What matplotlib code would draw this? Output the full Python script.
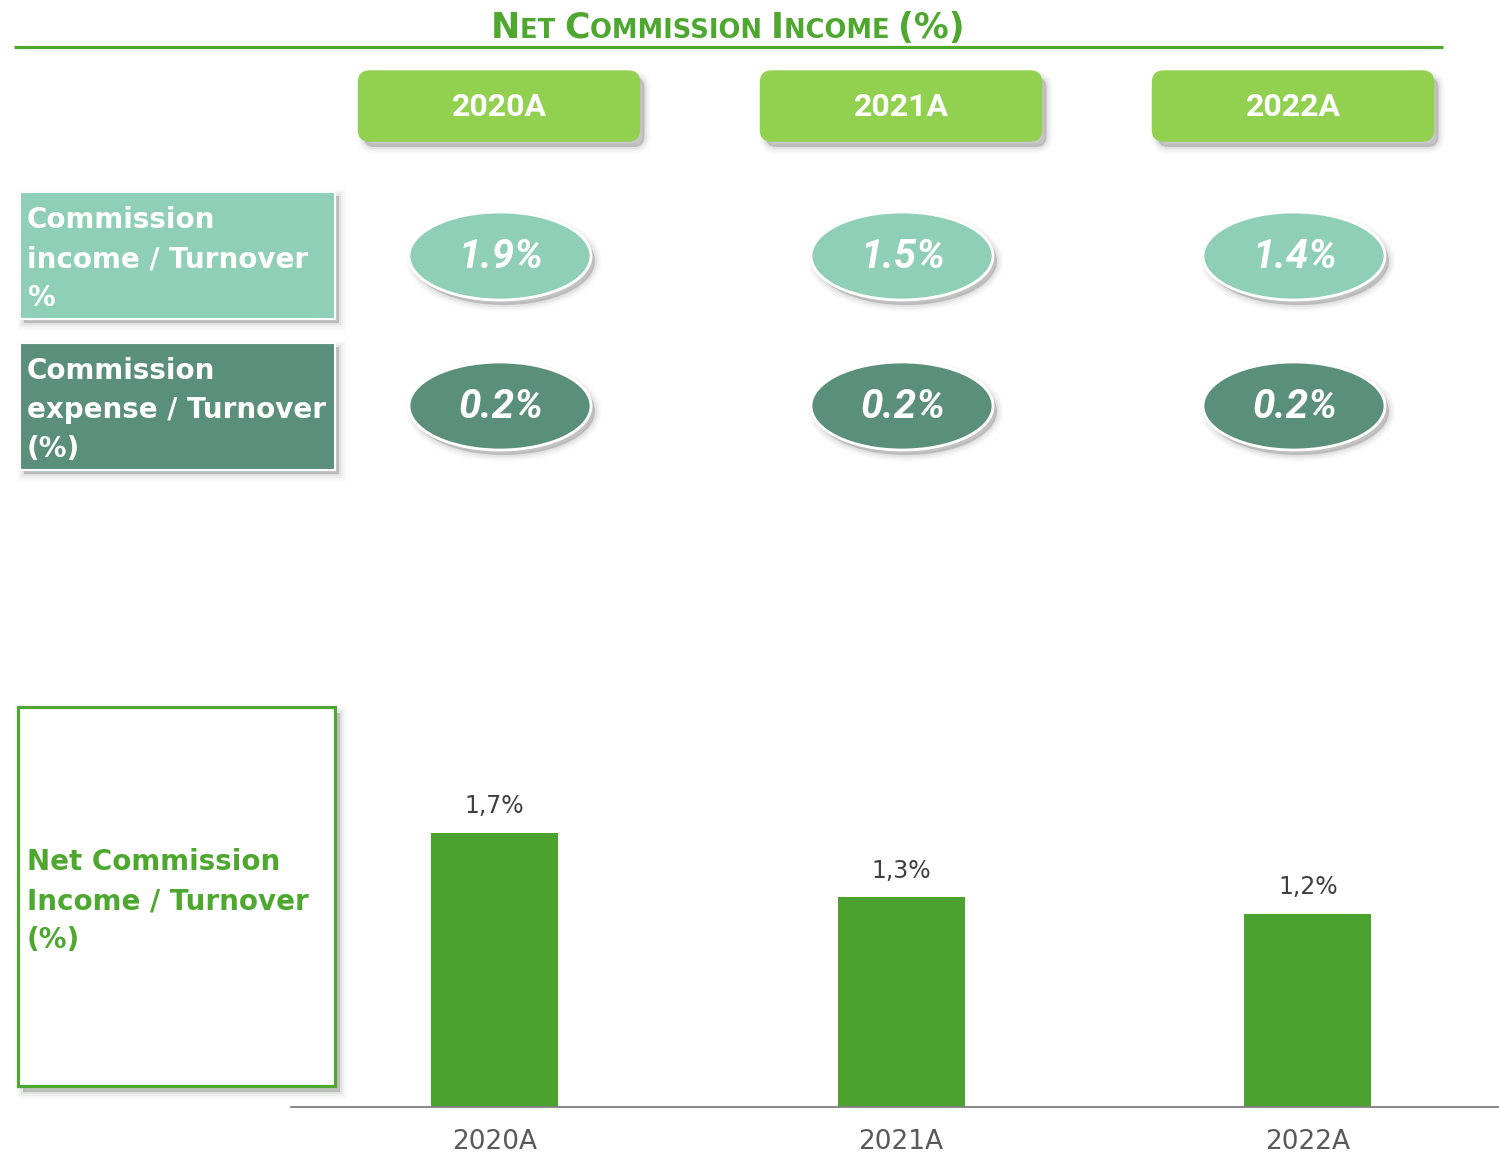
import numpy as np
import matplotlib
matplotlib.use('Agg')
import matplotlib.pyplot as plt
from matplotlib.patches import FancyBboxPatch, Ellipse, Rectangle

# ----------------------------------
# Data
# ----------------------------------

years = ['2020A', '2021A', '2022A']
income_pct = [1.9, 1.5, 1.4]     # commission income / turnover
expense_pct = [0.2, 0.2, 0.2]    # commission expense / turnover
net_pct = [1.7, 1.3, 1.2]        # net commission income / turnover

row_labels = ['Commission\nincome / Turnover\n%',
              'Commission\nexpense / Turnover\n(%)']
net_label = 'Net Commission\nIncome / Turnover\n(%)'

# ----------------------------------
# Colours
# ----------------------------------

GREEN = '#4EA72E'
BAR_GREEN = '#4BA22F'
HEADER = '#92D050'
LIGHT_TEAL = '#8FCFB7'
DARK_TEAL = '#5A8F7B'
SHADOW = '#7F7F7F'

W, H = 1499, 1156
fig = plt.figure(figsize=(W / 100, H / 100), dpi=100)

# Full-figure canvas in pixel units for the boxes and bubbles
ax = fig.add_axes([0, 0, 1, 1])
ax.set_xlim(0, W)
ax.set_ylim(H, 0)
ax.axis('off')


def soft_shadow(make_patch, dx=4, dy=5):
    """Stack a few faint offset copies of a shape to fake a blurred shadow."""
    for lw, alpha in [(9, 0.05), (6, 0.07), (3, 0.10), (0, 0.22)]:
        p = make_patch(dx, dy)
        p.set_facecolor(SHADOW)
        p.set_edgecolor(SHADOW)
        p.set_linewidth(lw)
        p.set_alpha(alpha)
        p.set_zorder(1)
        ax.add_patch(p)


# ----------------------------------
# Title with small caps
# ----------------------------------

title_parts = [('N', 25), ('ET ', 18.5), ('C', 25), ('OMMISSION ', 18.5),
               ('I', 25), ('NCOME ', 18.5), ('(%)', 25)]
renderer = fig.canvas.get_renderer()
pieces = []
for s, size in title_parts:
    t = ax.text(0, 38, s, fontsize=size, fontweight='bold', color=GREEN,
                family='DejaVu Sans', va='baseline', ha='left')
    pieces.append(t)
widths = [t.get_window_extent(renderer).width for t in pieces]
x = 728 - sum(widths) / 2
for t, w in zip(pieces, widths):
    t.set_x(x)
    x += w

ax.plot([14, 1443], [47, 47], color=GREEN, lw=2.3, solid_capstyle='butt')

# ----------------------------------
# Year headers
# ----------------------------------

col_x = [499, 901, 1293]
hw, hh = 281, 70
for cx, year in zip(col_x, years):
    def hdr(dx=0, dy=0, cx=cx):
        return FancyBboxPatch((cx - hw / 2 + dx, 71 + dy), hw, hh,
                              boxstyle='round,pad=0,rounding_size=11')
    soft_shadow(hdr, 5, 6)
    p = hdr()
    p.set_facecolor(HEADER)
    p.set_edgecolor(HEADER)
    p.set_zorder(2)
    ax.add_patch(p)
    ax.text(cx, 107, year, fontsize=23, fontweight='bold', color='white',
            family='Roboto', ha='center', va='center', zorder=3)

# ----------------------------------
# Row label boxes
# ----------------------------------

row_tops = [192, 343]
row_colors = [LIGHT_TEAL, DARK_TEAL]
for top, colr, label in zip(row_tops, row_colors, row_labels):
    def box(dx=0, dy=0, top=top):
        return Rectangle((20 + dx, top + dy), 315, 127)
    soft_shadow(box, 4, 4)
    p = box()
    p.set_facecolor(colr)
    p.set_edgecolor('white')
    p.set_linewidth(1.5)
    p.set_zorder(2)
    ax.add_patch(p)
    for i, line in enumerate(label.split('\n')):
        ax.text(27, top + 36 + 39 * i, line, fontsize=20, fontweight='bold',
                color='white', family='DejaVu Sans', va='baseline', zorder=3)

# ----------------------------------
# Value bubbles
# ----------------------------------

row_y = [256, 406]
for cy, colr, vals in zip(row_y, row_colors, [income_pct, expense_pct]):
    for cx, v in zip(col_x, vals):
        bx = cx + 1

        def ell(dx=0, dy=0, bx=bx, cy=cy):
            return Ellipse((bx + dx, cy + dy), 182, 88)
        soft_shadow(ell, 4, 5)
        p = ell()
        p.set_facecolor(colr)
        p.set_edgecolor('white')
        p.set_linewidth(2)
        p.set_zorder(2)
        ax.add_patch(p)
        ax.text(bx + 1, cy + 1, f'{v:.1f}%', fontsize=29, fontweight='bold',
                style='italic', color='white', family='Roboto',
                ha='center', va='center', zorder=3)

# ----------------------------------
# Net commission label box
# ----------------------------------


def net_box(dx=0, dy=0):
    return Rectangle((18 + dx, 707 + dy), 317, 379)


soft_shadow(net_box, 5, 6)
p = net_box()
p.set_facecolor('white')
p.set_edgecolor(GREEN)
p.set_linewidth(2.3)
p.set_zorder(2)
ax.add_patch(p)
for i, line in enumerate(net_label.split('\n')):
    ax.text(27, 870 + 39 * i, line, fontsize=20, fontweight='bold',
            color=GREEN, family='DejaVu Sans', va='baseline', zorder=3)

# ----------------------------------
# Bar chart
# ----------------------------------

bax = fig.add_axes([291 / W, 49 / H, 1208 / W, (1107 - 700) / H])
bax.patch.set_alpha(0)
xs = np.arange(len(years))
bars = bax.bar(xs, net_pct, width=0.312, color=BAR_GREEN, zorder=2)
bax.set_xlim(-0.5, 2.47)
bax.set_ylim(0, 407 / 161.2)

for b, v in zip(bars, net_pct):
    bax.annotate(f'{v:.1f}%'.replace('.', ','),
                 (b.get_x() + b.get_width() / 2, v),
                 xytext=(0, 10.5), textcoords='offset points',
                 ha='center', va='bottom', fontsize=17, color='#404040',
                 family='DejaVu Sans')

bax.set_xticks(xs, years)
bax.tick_params(axis='x', length=0, pad=16, labelsize=19, labelcolor='#595959')
bax.set_yticks([])
for side in ['top', 'right', 'left']:
    bax.spines[side].set_visible(False)
bax.spines['bottom'].set_color('#808080')
bax.spines['bottom'].set_linewidth(1.3)

fig.savefig('out.png', dpi=100)
